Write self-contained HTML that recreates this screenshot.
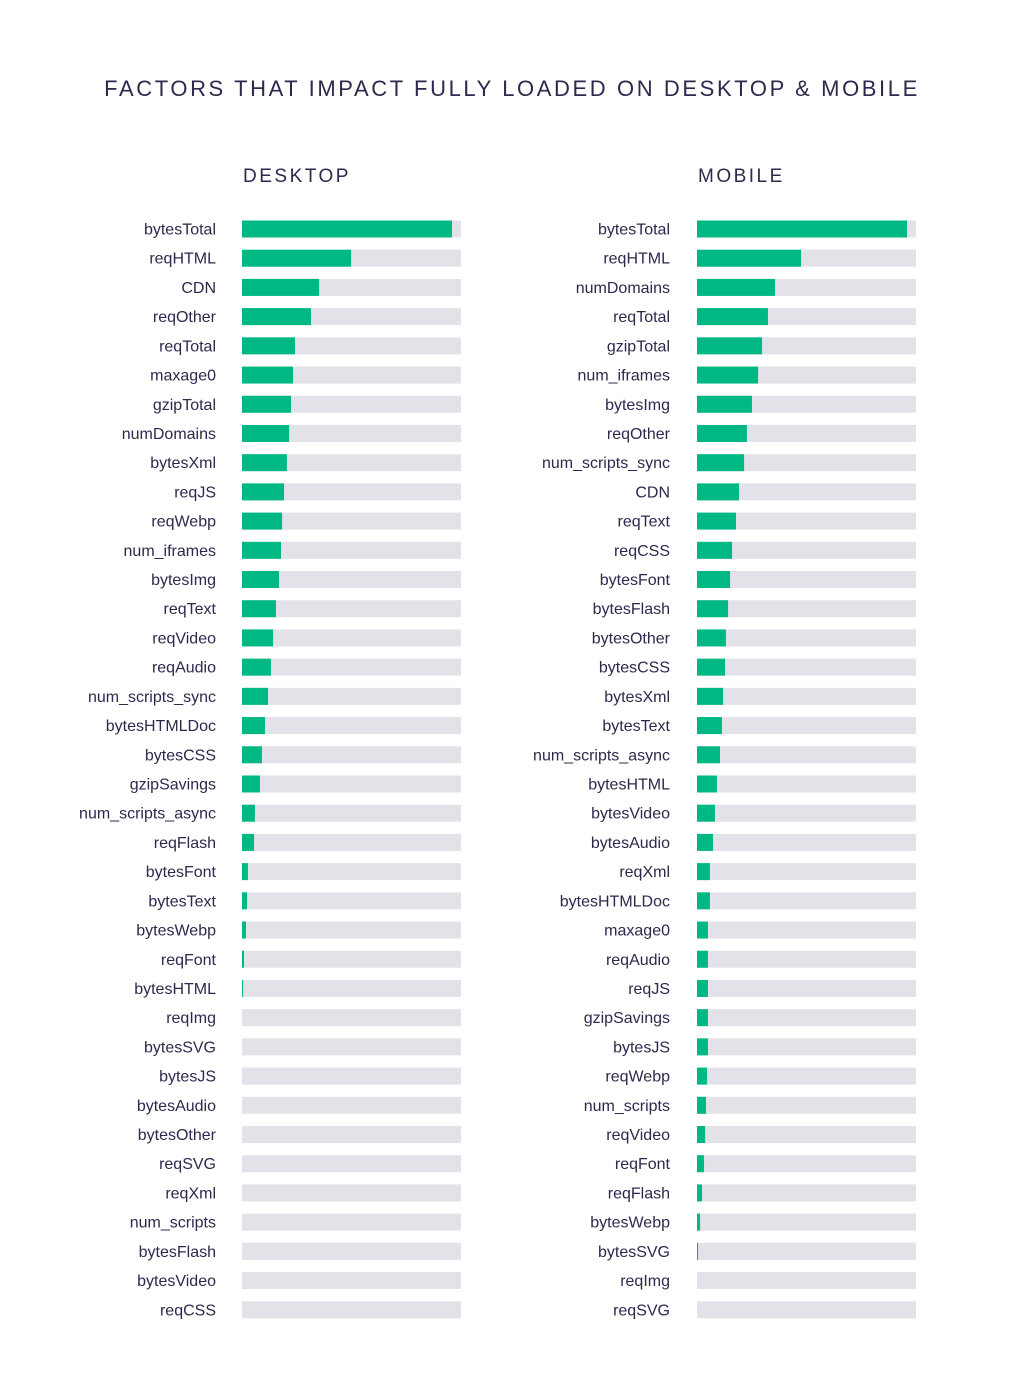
<!DOCTYPE html>
<html><head><meta charset="utf-8">
<style>
html,body{margin:0;padding:0;background:#fff;}
body{width:1024px;height:1388px;overflow:hidden;font-family:"Liberation Sans",sans-serif;color:#2b2a4c;}
</style></head>
<body>
<svg id="chart" width="1024" height="1388" xmlns="http://www.w3.org/2000/svg">
<text x="512" y="96" text-anchor="middle" font-size="22" letter-spacing="2.6" fill="#2b2a4c" font-family="Liberation Sans, sans-serif">FACTORS THAT IMPACT FULLY LOADED ON DESKTOP &amp; MOBILE</text>
<text x="243" y="182" font-size="19" letter-spacing="2.5" fill="#2b2a4c" font-family="Liberation Sans, sans-serif">DESKTOP</text>
<text x="698" y="182" font-size="19" letter-spacing="2.5" fill="#2b2a4c" font-family="Liberation Sans, sans-serif">MOBILE</text>
</svg>
<script>
const desktopLabels=["bytesTotal","reqHTML","CDN","reqOther","reqTotal","maxage0","gzipTotal","numDomains","bytesXml","reqJS","reqWebp","num_iframes","bytesImg","reqText","reqVideo","reqAudio","num_scripts_sync","bytesHTMLDoc","bytesCSS","gzipSavings","num_scripts_async","reqFlash","bytesFont","bytesText","bytesWebp","reqFont","bytesHTML","reqImg","bytesSVG","bytesJS","bytesAudio","bytesOther","reqSVG","reqXml","num_scripts","bytesFlash","bytesVideo","reqCSS"];
const desktopValues=[95.9,49.8,35.2,31.5,24.2,23.3,22.4,21.5,20.5,19.2,18.3,17.8,16.9,15.5,14.2,13.2,11.9,10.5,9.1,8.2,5.9,5.5,2.7,2.3,1.8,0.9,0.5,0,0,0,0,0,0,0,0,0,0,0];
const mobileLabels=["bytesTotal","reqHTML","numDomains","reqTotal","gzipTotal","num_iframes","bytesImg","reqOther","num_scripts_sync","CDN","reqText","reqCSS","bytesFont","bytesFlash","bytesOther","bytesCSS","bytesXml","bytesText","num_scripts_async","bytesHTML","bytesVideo","bytesAudio","reqXml","bytesHTMLDoc","maxage0","reqAudio","reqJS","gzipSavings","bytesJS","reqWebp","num_scripts","reqVideo","reqFont","reqFlash","bytesWebp","bytesSVG","reqImg","reqSVG"];
const mobileValues=[95.9,47.5,35.6,32.4,29.7,27.9,25.1,22.8,21.5,19.2,17.8,16.0,15.1,14.2,13.2,12.8,11.9,11.4,10.5,9.1,8.2,7.3,5.9,5.9,5.0,5.0,5.0,5.0,5.0,4.6,4.1,3.7,3.2,2.3,1.4,0.5,0,0];
const NS="http://www.w3.org/2000/svg";
const svg=document.getElementById('chart');
function yPos(i){return 229+i*29.21;}
function xScale(v){return v/100*219;}
function panel(labels,values,x0,labelX,prefix){
  labels.forEach((lab,i)=>{
    const y=yPos(i);
    const bg=document.createElementNS(NS,'rect');
    
    
    bg.setAttribute('x',x0);bg.setAttribute('y',y-8.5);bg.setAttribute('width',219);bg.setAttribute('height',17);bg.setAttribute('fill','#e2e2e8');
    svg.appendChild(bg);
    const w=xScale(values[i]);
    if(w>0){
      const b=document.createElementNS(NS,'rect');
      
      
      b.setAttribute('x',x0);b.setAttribute('y',y-8.5);b.setAttribute('width',w);b.setAttribute('height',17);b.setAttribute('fill','#00b883');
      svg.appendChild(b);
    }
    const t=document.createElementNS(NS,'text');
    
    
    t.setAttribute('x',labelX);t.setAttribute('y',y+5.5);t.setAttribute('text-anchor','end');
    t.setAttribute('font-size','16');t.setAttribute('fill','#2b2a4c');t.setAttribute('font-family','Liberation Sans, sans-serif');
    t.textContent=lab;
    svg.appendChild(t);
  });
}
panel(desktopLabels,desktopValues,242,216,'desktop');
panel(mobileLabels,mobileValues,697,670,'mobile');
</script>
</body></html>
